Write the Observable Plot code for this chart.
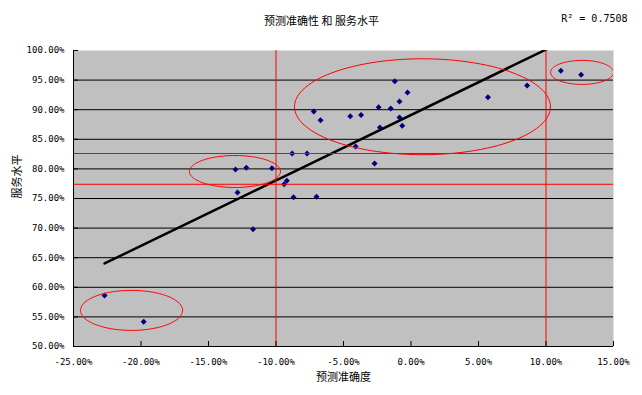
<!DOCTYPE html>
<html><head><meta charset="utf-8">
<script src="https://cdn.jsdelivr.net/npm/d3@7"></script>
<script src="https://cdn.jsdelivr.net/npm/@observablehq/plot@0.6"></script>
<style>body{margin:0;background:#fff}</style>
</head><body><div id="chart"></div>
<script>
// Text
const title = "预测准确性 和 服务水平";
const xLabel = "预测准确度";
const yLabel = "服务水平";
const r2Label = "R² = 0.7508";

// Axis ticks (percent)
const xTicks = [-25, -20, -15, -10, -5, 0, 5, 10, 15];
const yTicks = [50, 55, 60, 65, 70, 75, 80, 85, 90, 95, 100];

// Series: forecast accuracy (%) and service level (%)
const accuracy = [-22.7, -19.8, -13.0, -12.2, -10.3, -12.85, -11.7, -9.4, -9.2, -8.7, -7.0,
  -8.8, -7.7, -7.2, -6.7, -4.5, -3.7, -4.1, -2.7, -2.4, -2.3, -1.2, -1.5, -0.85, -0.26,
  -0.85, -0.65, 5.7, 8.6, 11.1, 12.6];
const service = [58.6, 54.2, 79.9, 80.2, 80.1, 76.0, 69.8, 77.4, 78.0, 75.2, 75.3,
  82.6, 82.6, 89.7, 88.2, 88.9, 89.1, 83.8, 80.9, 90.4, 87.0, 94.8, 90.2, 91.4, 92.9,
  88.7, 87.3, 92.1, 94.1, 96.6, 95.9];

// Reference lines (red)
const refX = [-10, 10];
const refY = [77.4, 82.6];

// Hand-drawn ellipses (data units)
const ellipseCx = [-20.7, -13.04, 0.85, 12.67];
const ellipseCy = [56.1, 79.56, 90.5, 96.3];
const ellipseRx = [3.78, 3.37, 9.48, 2.33];
const ellipseRy = [3.38, 2.7, 8.1, 2.03];

const points = accuracy.map((x, i) => ({x, y: service[i]}));
const ellipsePts = [];
ellipseCx.forEach((cx, e) => {
  for (let k = 0; k <= 120; k++) {
    const t = (k / 120) * 2 * Math.PI;
    ellipsePts.push({e, x: cx + ellipseRx[e] * Math.cos(t), y: ellipseCy[e] + ellipseRy[e] * Math.sin(t)});
  }
});

const fmt = d => d.toFixed(2) + "%";
const mono = "'DejaVu Sans Mono', 'Liberation Mono', monospace";
const cjk = "'Noto Sans CJK SC', sans-serif";

const chart = Plot.plot({
  width: 642,
  height: 395,
  marginLeft: 73,
  marginRight: 29,
  marginTop: 50,
  marginBottom: 49,
  style: {fontFamily: mono, fontSize: "9px", color: "#000", background: "#fff"},
  x: {domain: [xTicks[0], xTicks[xTicks.length - 1]]},
  y: {domain: [yTicks[0], yTicks[yTicks.length - 1]]},
  marks: [
    Plot.frame({fill: "#c0c0c0", stroke: "none"}),
    Plot.gridY(yTicks.slice(1, -1), {stroke: "#000", strokeOpacity: 1}),
    Plot.linearRegressionY(points, {x: "x", y: "y", stroke: "#000", strokeWidth: 2.5, ci: 0, clip: true}),
    Plot.dot(points, {x: "x", y: "y", symbol: "diamond2", fill: "#000080", stroke: "none", r: 2.7}),
    Plot.ruleY(refY, {stroke: "#ff0000", strokeWidth: 1}),
    Plot.ruleX(refX, {stroke: "#ff0000", strokeWidth: 1}),
    Plot.line(ellipsePts, {x: "x", y: "y", z: "e", stroke: "#ff0000", strokeWidth: 1, clip: true}),
    Plot.ruleX([xTicks[0]], {stroke: "#000"}),
    Plot.ruleY([yTicks[0]], {stroke: "#000"}),
    Plot.axisX(xTicks, {tickSize: -5, tickPadding: 17, tickFormat: fmt, label: null, fontFamily: mono, fontSize: 9}),
    Plot.axisY(yTicks, {tickSize: -5, tickPadding: 14, tickFormat: fmt, label: null, fontFamily: mono, fontSize: 9}),
    Plot.text([xLabel], {text: d => d, frameAnchor: "bottom", dy: 34, fontFamily: cjk, fontSize: 11}),
    Plot.text([yLabel], {text: d => d, frameAnchor: "left", dx: -56, rotate: -90, fontFamily: cjk, fontSize: 11}),
    Plot.text([title], {text: d => d, frameAnchor: "top", dx: -22, dy: -33, fontFamily: cjk, fontSize: 11}),
    Plot.text([r2Label], {text: d => d, frameAnchor: "top-right", dx: 14, dy: -36, textAnchor: "end", fontFamily: mono, fontSize: 10})
  ]
});
document.getElementById("chart").appendChild(chart);
</script>
</body></html>
